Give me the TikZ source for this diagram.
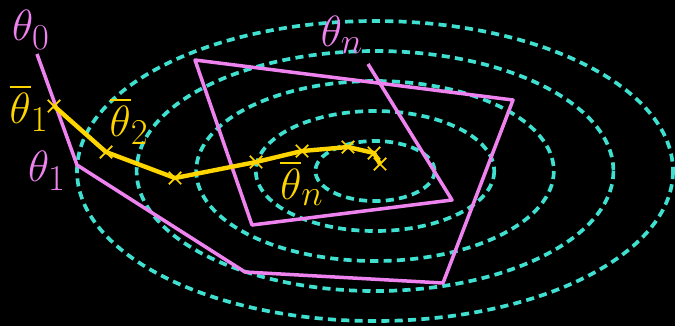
\documentclass[tikz,border=0pt]{standalone}
\usepackage{amsmath}
\usetikzlibrary{shapes.misc}
\definecolor{contour}{RGB}{64,224,208}
\definecolor{orchid}{RGB}{238,130,238}
\definecolor{avggold}{RGB}{255,213,0}

\begin{document}
\begin{tikzpicture}[
  x=0.02cm, y=-0.02cm,
  level/.style={draw=contour, line width=2.1pt, dash pattern=on 4.6pt off 3pt},
  iter/.style={draw=orchid, line width=2pt, line join=round},
  avg/.style={draw=avggold, line width=2.5pt, line join=round},
  tick/.style={cross out, draw=avggold, line width=1pt, minimum size=6pt, inner sep=0pt},
  lbl/.style={font=\Huge, inner sep=0pt}
]
\fill[black] (0,0) rectangle (675,326);
\useasboundingbox (0,0) rectangle (675,326);

% level sets of the loss
\coordinate (mid) at (375,171);
\foreach \k in {1,...,5}
  \draw[level] (mid) ellipse [x radius={59.6*\k}, y radius={30*\k}];

% iterates theta_0 ... theta_n
\coordinate (p0) at (37,54);
\coordinate (p1) at (77,165);
\coordinate (p2) at (245,272);
\coordinate (p3) at (443,283);
\coordinate (p4) at (513,100);
\coordinate (p5) at (195,60);
\coordinate (p6) at (252,225);
\coordinate (p7) at (452,200);
\coordinate (p8) at (368,64);
\draw[iter] (p0) -- (p1) -- (p2) -- (p3) -- (p4) -- (p5) -- (p6) -- (p7) -- (p8);

% running averages
\coordinate (a1) at (54,106);
\coordinate (a2) at (106,152);
\coordinate (a3) at (175,178);
\coordinate (a4) at (256,162);
\coordinate (a5) at (302,151);
\coordinate (a6) at (348,147);
\coordinate (a7) at (374,153);
\coordinate (a8) at (380,164);
\draw[avg] (a1) -- (a2) -- (a3) -- (a4) -- (a5) -- (a6) -- (a7) -- (a8);
\foreach \i in {1,...,8}
  \node[tick] (m\i) at (a\i) {};

\node[lbl, text=orchid] (t0) at (31,30) {$\theta_0$};
\node[lbl, text=orchid] (t1) at (47,171) {$\theta_1$};
\node[lbl, text=orchid] (tn) at (342,35) {$\theta_n$};
\node[lbl, text=avggold] (b1) at (29,108) {$\overline{\theta}_1$};
\node[lbl, text=avggold] (b2) at (129,121) {$\overline{\theta}_2$};
\node[lbl, text=avggold] (bn) at (302,183) {$\overline{\theta}_n$};
\end{tikzpicture}
\end{document}
